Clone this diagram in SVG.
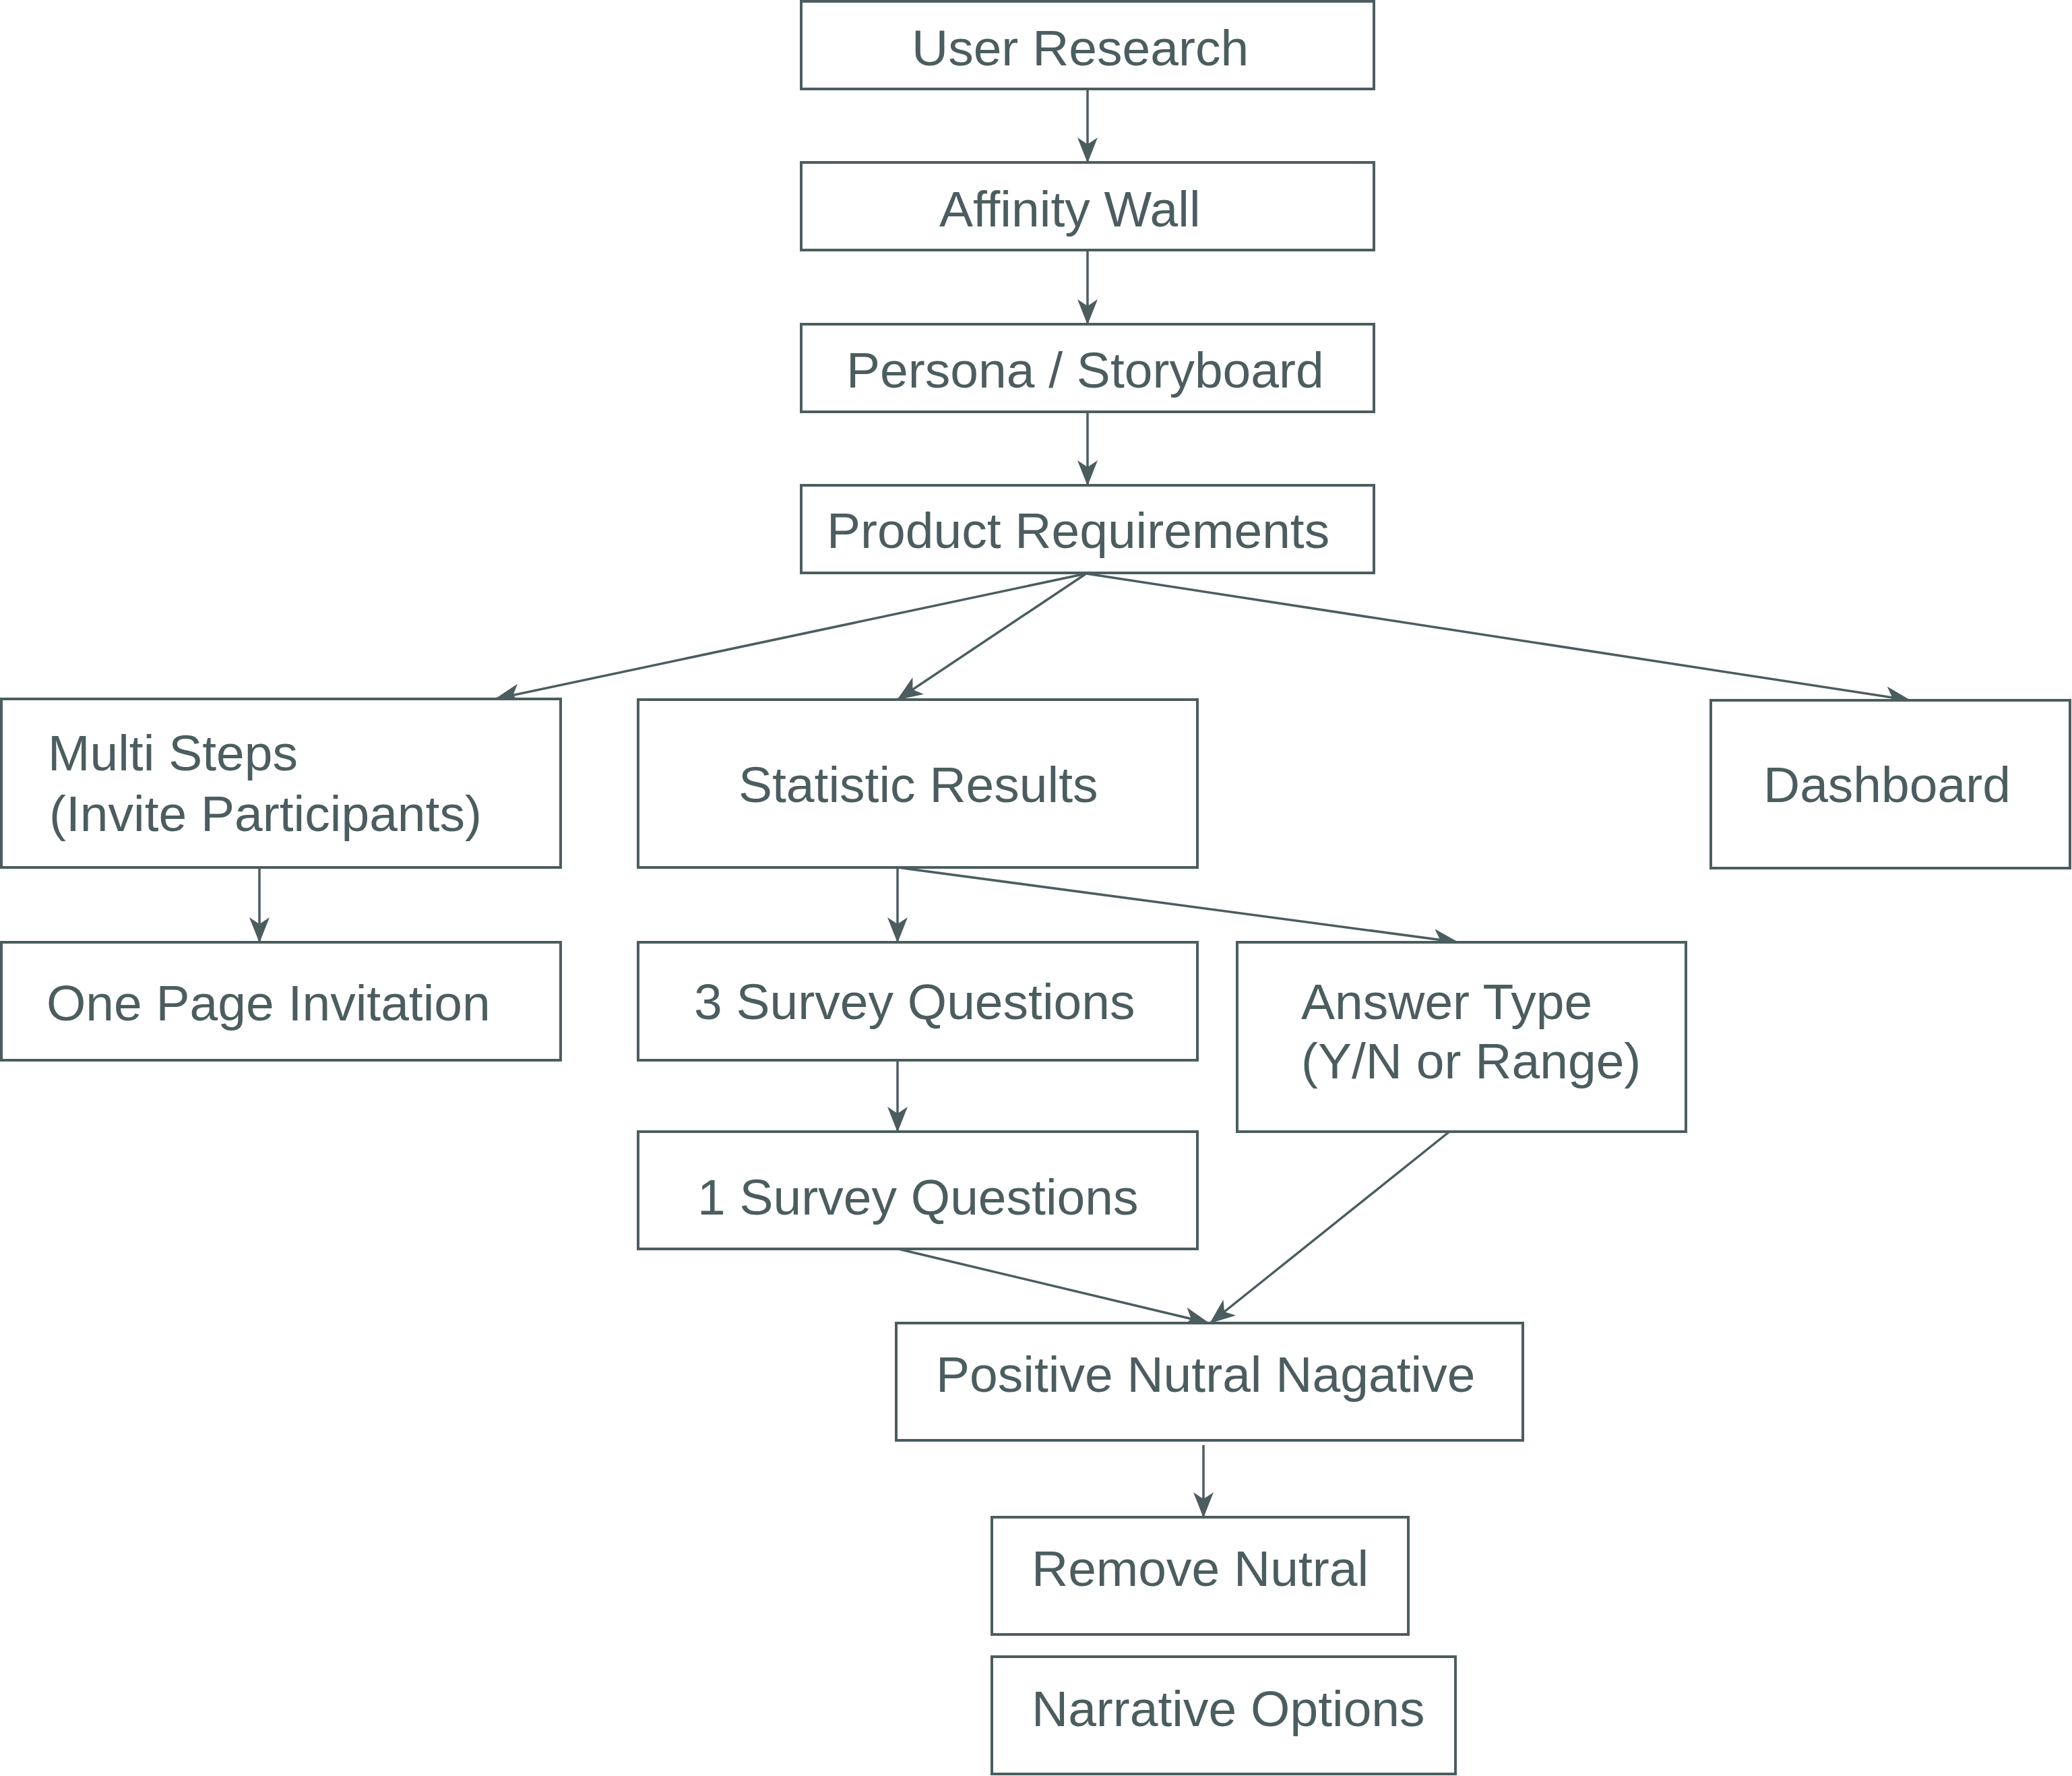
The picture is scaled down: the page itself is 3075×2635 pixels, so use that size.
<svg xmlns="http://www.w3.org/2000/svg" width="3075" height="2635" viewBox="0 0 3075 2635">
<style>
.box{fill:#ffffff;stroke:#4b5d5f;stroke-width:4}
.lbl{font-family:"Liberation Sans",Arial,Helvetica,sans-serif;font-size:75px;fill:#4b5d5f}
.con{stroke:#4b5d5f;stroke-width:3.5;fill:none;marker-end:url(#ah)}
</style>
<defs>
<marker id="ah" viewBox="0 0 38 30" refX="37" refY="15" markerWidth="38" markerHeight="30" markerUnits="userSpaceOnUse" orient="auto">
<path d="M0,0 L38,15 L0,30 L10,15 Z" fill="#4b5d5f"/>
</marker>
</defs>
<rect width="3075" height="2635" fill="#ffffff"/>
<g id="connectors">
<line class="con" x1="1614" y1="132" x2="1614" y2="241"/>
<line class="con" x1="1614" y1="371" x2="1614" y2="481"/>
<line class="con" x1="1614" y1="611" x2="1614" y2="720"/>
<line class="con" x1="1612" y1="851" x2="735" y2="1037"/>
<line class="con" x1="1612" y1="851" x2="1332" y2="1038"/>
<line class="con" x1="1612" y1="851" x2="2835" y2="1039"/>
<line class="con" x1="385" y1="1287" x2="385" y2="1398"/>
<line class="con" x1="1332" y1="1287" x2="1332" y2="1398"/>
<line class="con" x1="1332" y1="1287" x2="2164" y2="1398"/>
<line class="con" x1="1332" y1="1573" x2="1332" y2="1679"/>
<line class="con" x1="1333" y1="1853" x2="1794" y2="1963"/>
<line class="con" x1="2151" y1="1679" x2="1796" y2="1963"/>
<line class="con" x1="1786" y1="2144" x2="1786" y2="2251"/>
</g>
<g id="n-user-research"><rect class="box" x="1189" y="2" width="850" height="130"/><text class="lbl" x="1353" y="97">User Research</text></g>
<g id="n-affinity-wall"><rect class="box" x="1189" y="241" width="850" height="130"/><text class="lbl" x="1394" y="336">Affinity Wall</text></g>
<g id="n-persona"><rect class="box" x="1189" y="481" width="850" height="130"/><text class="lbl" x="1256" y="575">Persona / Storyboard</text></g>
<g id="n-product-req"><rect class="box" x="1189" y="720" width="850" height="130"/><text class="lbl" x="1227" y="813">Product Requirements</text></g>
<g id="n-multi-steps"><rect class="box" x="2" y="1037" width="830" height="250"/><text class="lbl" x="71" y="1143">Multi Steps</text><text class="lbl" x="73" y="1233">(Invite Participants)</text></g>
<g id="n-statistic"><rect class="box" x="947" y="1038" width="830" height="249"/><text class="lbl" x="1096" y="1190">Statistic Results</text></g>
<g id="n-dashboard"><rect class="box" x="2539" y="1039" width="533" height="249"/><text class="lbl" x="2617" y="1190">Dashboard</text></g>
<g id="n-one-page"><rect class="box" x="2" y="1398" width="830" height="175"/><text class="lbl" x="69" y="1514">One Page Invitation</text></g>
<g id="n-3-survey"><rect class="box" x="947" y="1398" width="830" height="175"/><text class="lbl" x="1030" y="1512">3 Survey Questions</text></g>
<g id="n-answer-type"><rect class="box" x="1836" y="1398" width="666" height="281"/><text class="lbl" x="1931" y="1512">Answer Type</text><text class="lbl" x="1931" y="1600">(Y/N or Range)</text></g>
<g id="n-1-survey"><rect class="box" x="947" y="1679" width="830" height="174"/><text class="lbl" x="1035" y="1802">1 Survey Questions</text></g>
<g id="n-positive"><rect class="box" x="1330" y="1963" width="930" height="174"/><text class="lbl" x="1389" y="2065">Positive Nutral Nagative</text></g>
<g id="n-remove"><rect class="box" x="1472" y="2251" width="618" height="174"/><text class="lbl" x="1531" y="2353">Remove Nutral</text></g>
<g id="n-narrative"><rect class="box" x="1472" y="2458" width="688" height="174"/><text class="lbl" x="1531" y="2561">Narrative Options</text></g>
</svg>
